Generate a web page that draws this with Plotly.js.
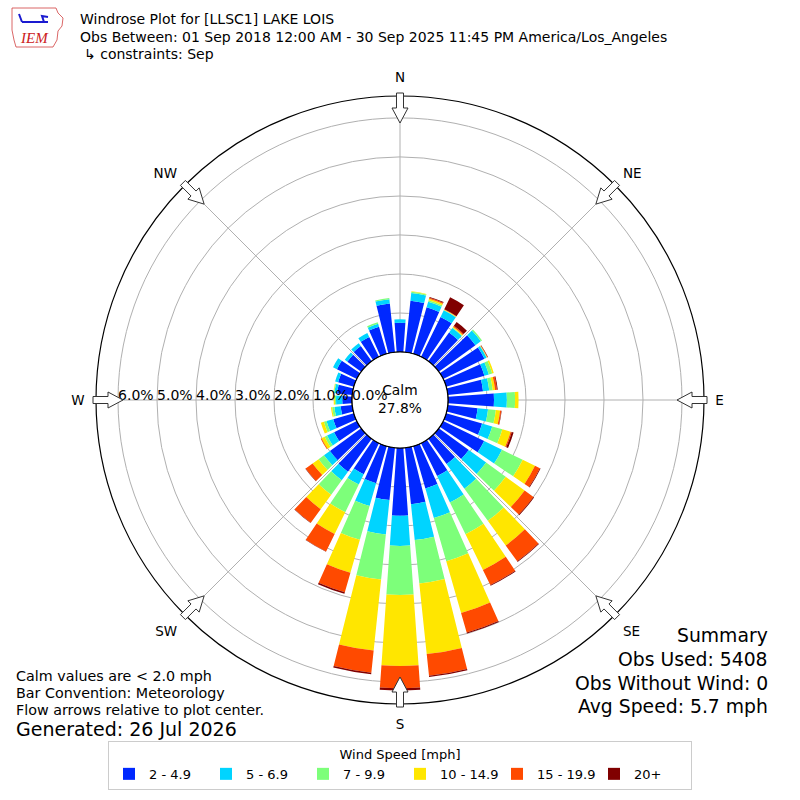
<!DOCTYPE html>
<html>
<head>
<meta charset="utf-8">
<script src="https://cdn.plot.ly/plotly-3.0.1.min.js"></script>
<style>html,body{margin:0;padding:0;background:#fff;}#chart{width:800px;height:800px;}</style>
</head>
<body>
<div id="chart"></div>
<script>
// ---- data (percent of observations) ----
const directions = [0,10,20,30,40,50,60,70,80,90,100,110,120,130,140,150,160,170,180,190,200,210,220,230,240,250,260,270,280,290,300,310,320,330,340,350];
const speedLabels = ['2 - 4.9','5 - 6.9','7 - 9.9','10 - 14.9','15 - 19.9','20+'];
const spd2to5   = [0.75,1.33,1.24,1.14,0.91,1.16,1.18,1.02,0.91,1.18,0.77,0.96,1.17,0.95,0.80,0.94,1.13,1.46,1.74,1.35,0.99,0.89,1.04,0.99,0.65,0.55,0.30,0.25,0.39,0.42,0.57,0.44,0.48,0.57,0.72,1.26];
const spd5to7   = [0.09,0.20,0.15,0.19,0.14,0.17,0.06,0.12,0.16,0.33,0.27,0.27,0.51,0.55,0.78,0.75,0.79,0.92,0.77,0.89,0.61,0.29,0.27,0.19,0.20,0.18,0.16,0.16,0.07,0.08,0.11,0.08,0.09,0.11,0.08,0.11];
const spd7to10  = [0.00,0.03,0.04,0.01,0.02,0.04,0.01,0.09,0.09,0.21,0.20,0.27,0.59,0.62,1.02,0.91,1.15,1.12,1.26,1.16,0.90,0.79,0.46,0.17,0.07,0.07,0.06,0.03,0.02,0.00,0.00,0.00,0.00,0.00,0.04,0.03];
const spd10to15 = [0.00,0.01,0.04,0.01,0.02,0.00,0.01,0.04,0.06,0.09,0.11,0.22,0.35,0.60,0.78,1.02,1.38,1.82,1.82,1.83,0.88,0.62,0.46,0.19,0.09,0.08,0.03,0.03,0.01,0.00,0.00,0.00,0.00,0.00,0.00,0.00];
const spd15to20 = [0.00,0.00,0.03,0.01,0.03,0.00,0.01,0.00,0.05,0.00,0.03,0.03,0.14,0.28,0.50,0.43,0.52,0.56,0.57,0.57,0.52,0.50,0.43,0.22,0.02,0.00,0.00,0.00,0.00,0.00,0.00,0.00,0.00,0.00,0.00,0.00];
const spd20plus = [0.00,0.00,0.02,0.34,0.12,0.00,0.01,0.00,0.02,0.00,0.01,0.05,0.02,0.02,0.02,0.02,0.03,0.03,0.06,0.04,0.04,0.01,0.01,0.01,0.00,0.00,0.00,0.00,0.00,0.00,0.00,0.00,0.00,0.00,0.00,0.00];
const radialTicks = [0,1,2,3,4,5,6];
const radialTickText = ['0.0%','1.0%','2.0%','3.0%','4.0%','5.0%','6.0%'];
const compassTicks = [0,45,90,135,180,225,270,315];
const compassText = ['N','NE','E','SE','S','SW','W','NW'];
const calmPct = 27.8;

// ---- styling ----
const colors = ['#0028ff','#00d4ff','#7dff7a','#ffe600','#ff4a00','#800000'];
const series = [spd2to5, spd5to7, spd7to10, spd10to15, spd15to20, spd20plus];
const FONT = 'DejaVu Sans, Verdana, sans-serif';

const traces = series.map((vals, i) => ({
  type: 'barpolar',
  r: vals,
  theta: directions,
  width: 8,
  name: speedLabels[i],
  marker: {color: colors[i], line: {color: colors[i], width: 0}},
  hoverinfo: 'skip'
}));

// calm circle outline at r = 0 (hole edge)
const ringTheta = [];
for (let t = 0; t <= 360; t += 3) ringTheta.push(t);
traces.push({
  type: 'scatterpolar', mode: 'lines',
  r: ringTheta.map(() => 0), theta: ringTheta,
  line: {color: '#000', width: 1.2}, showlegend: false, hoverinfo: 'skip'
});

// geometry of the polar area in pixels
const W = 800, H = 800, CX = 400, CY = 400, R = 304;
const px = x => x / W, py = y => 1 - y / H;

// flow arrows at compass points
const shapes = [];
compassTicks.forEach(a => {
  const rad = a * Math.PI / 180;
  const ux = Math.sin(rad), uy = -Math.cos(rad);
  const vx = Math.cos(rad), vy = Math.sin(rad);
  const P = (r, w) => [CX + r * ux + w * vx, CY + r * uy + w * vy];
  const pts = [P(277,0), P(292,8), P(292,3.5), P(307,3.5), P(307,-3.5), P(292,-3.5), P(292,-8)];
  const d = 'M' + pts.map(p => px(p[0]).toFixed(5) + ',' + py(p[1]).toFixed(5)).join(' L') + ' Z';
  shapes.push({type: 'path', xref: 'paper', yref: 'paper', path: d,
    fillcolor: '#ffffff', line: {color: '#333', width: 1}, layer: 'above'});
});

// IEM logo outline (decorative)
const logoPts = [[12,8],[56,8],[58,13],[63,18],[62,26],[58,31],[57,40],[53,47],[16,47],[14,40],[12,30]];
shapes.push({type: 'path', xref: 'paper', yref: 'paper',
  path: 'M' + logoPts.map(p => px(p[0]).toFixed(5) + ',' + py(p[1]).toFixed(5)).join(' L') + ' Z',
  line: {color: '#d04040', width: 0.8}, fillcolor: 'rgba(0,0,0,0)'});
shapes.push({type: 'path', xref: 'paper', yref: 'paper',
  path: `M${px(22)},${py(22)} L${px(48)},${py(22)} M${px(22)},${py(22)} L${px(19)},${py(14)} M${px(44)},${py(22)} L${px(42)},${py(16)} L${px(48)},${py(17)}`,
  line: {color: '#1a1ad0', width: 2}});

const ann = (text, x, y, size, anchor, extra) => Object.assign({
  text: text, xref: 'paper', yref: 'paper', x: px(x), y: py(y),
  xanchor: anchor, yanchor: 'middle', showarrow: false,
  font: {family: FONT, size: size, color: '#000'}
}, extra || {});

const annotations = [
  ann('Windrose Plot for [LLSC1] LAKE LOIS', 78, 19, 14, 'left'),
  ann('Obs Between: 01 Sep 2018 12:00 AM - 30 Sep 2025 11:45 PM America/Los_Angeles', 78, 37, 14, 'left'),
  ann('↳ constraints: Sep', 82, 54, 14, 'left'),
  ann('Calm<br>' + calmPct.toFixed(1) + '%', CX, CY - 1, 13.8, 'center'),
  ann('Calm values are < 2.0 mph', 14, 676, 14.3, 'left'),
  ann('Bar Convention: Meteorology', 14, 693, 14.3, 'left'),
  ann('Flow arrows relative to plot center.', 14, 710, 14.3, 'left'),
  ann('Generated: 26 Jul 2026', 14, 729, 19, 'left'),
  ann('Summary', 770, 635, 18.8, 'right'),
  ann('Obs Used: 5408', 770, 659, 18.8, 'right'),
  ann('Obs Without Wind: 0', 770, 683, 18.8, 'right'),
  ann('Avg Speed: 5.7 mph', 770, 706, 18.8, 'right'),
  ann('<i>IEM</i>', 34, 38, 15, 'center', {font: {family: 'Liberation Serif, serif', size: 15, color: '#cc2020'}})
];

// pad radial labels so they start at their ring (matplotlib-style placement)
const pad = '\u00a0'.repeat(8);

const layout = {
  width: W, height: H,
  margin: {l: 0, r: 0, t: 0, b: 0},
  paper_bgcolor: '#fff',
  font: {family: FONT, color: '#000'},
  showlegend: true,
  legend: {
    orientation: 'h', x: 0.5, xanchor: 'center', y: py(790), yanchor: 'bottom',
    traceorder: 'normal',
    title: {text: 'Wind Speed [mph]', side: 'top center', font: {family: FONT, size: 13}},
    font: {family: FONT, size: 13},
    bordercolor: '#cccccc', borderwidth: 1, bgcolor: '#fff',
    entrywidth: 52, entrywidthmode: 'pixels', itemwidth: 30
  },
  polar: {
    domain: {x: [px(CX - R), px(CX + R)], y: [py(CY + R), py(CY - R)]},
    hole: 48 / R,
    bgcolor: '#fff',
    barmode: 'stack',
    angularaxis: {
      rotation: 90, direction: 'clockwise',
      tickmode: 'array', tickvals: compassTicks, ticktext: compassText,
      ticks: 'outside', ticklen: 8, tickcolor: 'rgba(0,0,0,0)',
      tickfont: {family: FONT, size: 13.5, color: '#000'},
      showline: true, linecolor: '#000', linewidth: 1.2,
      showgrid: true, gridcolor: '#b0b0b0', gridwidth: 1
    },
    radialaxis: {
      range: [0, (R - 48) / 39],
      angle: 180, side: 'clockwise', tickangle: 180,
      tickmode: 'array', tickvals: radialTicks, ticktext: radialTickText.map(t => pad + t),
      tickfont: {family: FONT, size: 14, color: '#000'},
      ticks: '', showline: false,
      showgrid: true, gridcolor: '#b0b0b0', gridwidth: 1
    }
  },
  shapes: shapes,
  annotations: annotations
};

Plotly.newPlot('chart', traces, layout, {staticPlot: true, displayModeBar: false});
</script>
</body>
</html>
